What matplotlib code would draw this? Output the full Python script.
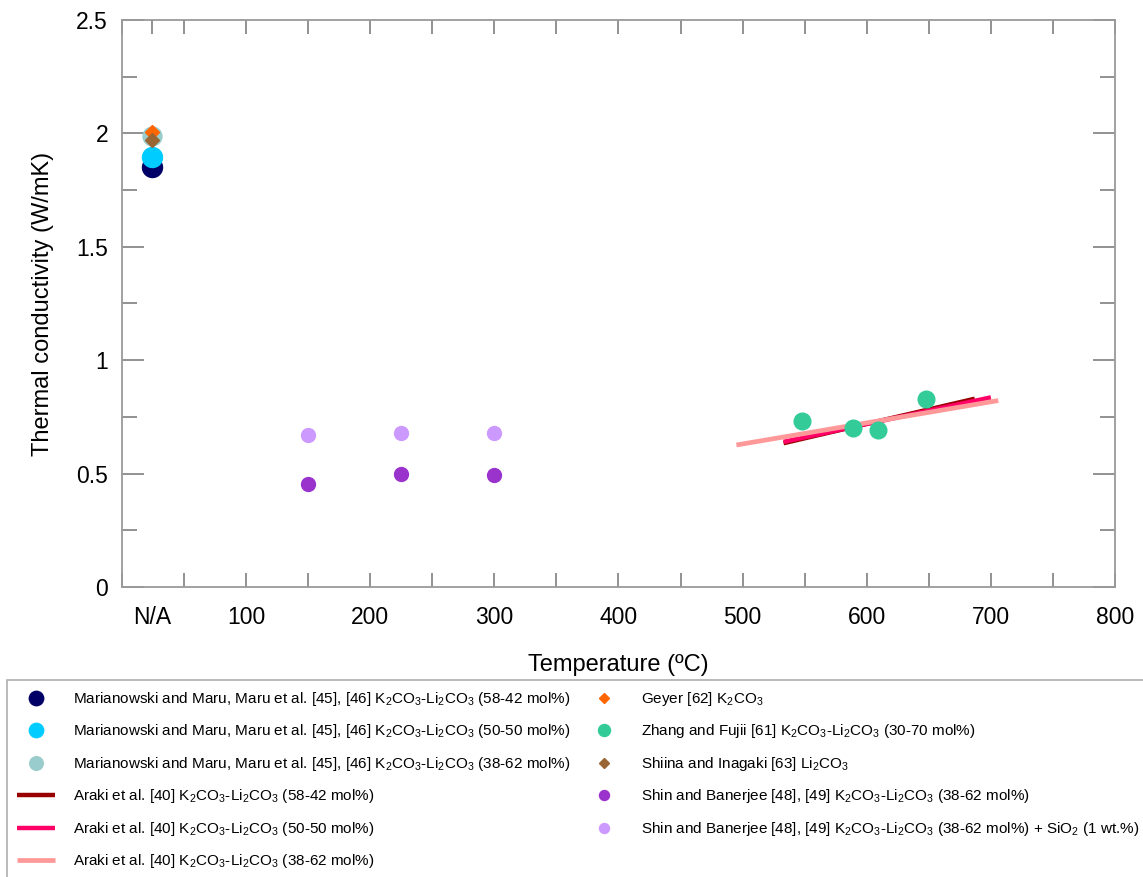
import numpy as np
import matplotlib
matplotlib.use('Agg')
import matplotlib.pyplot as plt
from matplotlib.ticker import MultipleLocator

plt.rcParams['font.family'] = ['Liberation Sans', 'DejaVu Sans']
plt.rcParams['mathtext.fontset'] = 'custom'
plt.rcParams['mathtext.rm'] = 'Liberation Sans'
plt.rcParams['mathtext.it'] = 'Liberation Sans'

# x position used for the "N/A" (no temperature given) points
na_x = 24

# Marianowski and Maru, Maru et al. (no temperature)
maru_58_42 = 1.85
maru_50_50 = 1.895
maru_38_62 = 1.99
geyer_k2co3 = 2.005
shiina_li2co3 = 1.972

# Araki et al. lines (start / end)
araki_58_42_x = [533, 687]
araki_58_42_y = [0.634, 0.830]
araki_50_50_x = [533, 700]
araki_50_50_y = [0.640, 0.836]
araki_38_62_x = [495, 706]
araki_38_62_y = [0.626, 0.822]

# Zhang and Fujii
zhang_x = [548, 589, 609, 648]
zhang_y = [0.732, 0.700, 0.692, 0.829]

# Shin and Banerjee
shin_x = [150, 225, 300]
shin_y = [0.455, 0.500, 0.493]
shin_sio2_y = [0.669, 0.680, 0.679]

xtick_pos = [na_x, 100, 200, 300, 400, 500, 600, 700, 800]
xtick_lab = ['N/A', '100', '200', '300', '400', '500', '600', '700', '800']

KL = 'K$_2$CO$_3$-Li$_2$CO$_3$'
labels = {
    'm1': 'Marianowski and Maru, Maru et al. [45], [46] ' + KL + ' (58-42 mol%)',
    'm2': 'Marianowski and Maru, Maru et al. [45], [46] ' + KL + ' (50-50 mol%)',
    'm3': 'Marianowski and Maru, Maru et al. [45], [46] ' + KL + ' (38-62 mol%)',
    'a1': 'Araki et al. [40] ' + KL + ' (58-42 mol%)',
    'a2': 'Araki et al. [40] ' + KL + ' (50-50 mol%)',
    'a3': 'Araki et al. [40] ' + KL + ' (38-62 mol%)',
    'g': 'Geyer [62] K$_2$CO$_3$',
    'z': 'Zhang and Fujii [61] ' + KL + ' (30-70 mol%)',
    's': 'Shiina and Inagaki [63] Li$_2$CO$_3$',
    'sb': 'Shin and Banerjee [48], [49] ' + KL + ' (38-62 mol%)',
    'sbs': 'Shin and Banerjee [48], [49] ' + KL + ' (38-62 mol%) + SiO$_2$ (1 wt.%)',
}

fig = plt.figure(figsize=(11.43, 8.77), dpi=100)
ax = fig.add_axes([0.1067, 0.3307, 0.8688, 0.6465])

h = {}
h['m1'], = ax.plot([na_x], [maru_58_42], 'o', color='#000066', ms=14.4, ls='none')
h['m2'], = ax.plot([na_x], [maru_50_50], 'o', color='#00CCFF', ms=14.4, ls='none')
h['m3'], = ax.plot([na_x], [maru_38_62], 'o', color='#99CCCC', ms=13.6, ls='none')
h['g'], = ax.plot([na_x], [geyer_k2co3], 'D', color='#FF6600', ms=7, ls='none')
h['s'], = ax.plot([na_x], [shiina_li2co3], 'D', color='#996633', ms=7, ls='none')
h['a1'], = ax.plot(araki_58_42_x, araki_58_42_y, color='#990000', lw=3.2, solid_capstyle='butt')
h['a2'], = ax.plot(araki_50_50_x, araki_50_50_y, color='#FF0066', lw=3.2, solid_capstyle='butt')
h['a3'], = ax.plot(araki_38_62_x, araki_38_62_y, color='#FF9999', lw=3.4, solid_capstyle='butt')
h['z'], = ax.plot(zhang_x, zhang_y, 'o', color='#33CC99', ms=12, ls='none')
h['sb'], = ax.plot(shin_x, shin_y, 'o', color='#9933CC', ms=10, ls='none')
h['sbs'], = ax.plot(shin_x, shin_sio2_y, 'o', color='#CC99FF', ms=10, ls='none')

ax.set_xlim(0, 800)
ax.set_ylim(0, 2.5)
ax.set_xticks(xtick_pos)
ax.set_xticklabels(xtick_lab)
ax.xaxis.set_minor_locator(MultipleLocator(50))
ax.yaxis.set_minor_locator(MultipleLocator(0.25))
ax.set_yticks([0, 0.5, 1, 1.5, 2, 2.5])
ax.set_yticklabels(['0', '0.5', '1', '1.5', '2', '2.5'])
ax.xaxis.get_major_ticks()[0].tick1line.set_visible(False)
ax.xaxis.get_major_ticks()[0].tick2line.set_visible(False)

ax.tick_params(axis='both', which='both', direction='in', top=True, right=True,
               color='#7f7f7f', width=1.2, labelsize=16.5)
ax.tick_params(axis='x', which='both', length=10, pad=14)
ax.tick_params(axis='y', which='major', length=16, pad=10)
ax.tick_params(axis='y', which='minor', length=11)
for sp in ax.spines.values():
    sp.set_color('#9a9a9a')
    sp.set_linewidth(1.3)

ax.set_xlabel('Temperature (ºC)', fontsize=17, labelpad=18)
ax.set_ylabel('Thermal conductivity (W/mK)', fontsize=17, labelpad=16)

order = ['m1', 'm2', 'm3', 'a1', 'a2', 'a3', 'g', 'z', 's', 'sb', 'sbs']
leg = fig.legend([h[k] for k in order], [labels[k] for k in order],
                 loc='upper left', bbox_to_anchor=(7 / 1143, 1 - 680 / 877),
                 ncol=2, frameon=True, fancybox=False, fontsize=11,
                 edgecolor='#9a9a9a', borderaxespad=0, borderpad=0.65,
                 labelspacing=0.95, handlelength=2.5, handletextpad=1.2,
                 columnspacing=0.9, markerscale=0.72)
leg.get_frame().set_linewidth(1.2)

fig.savefig('out.png', dpi=100)
